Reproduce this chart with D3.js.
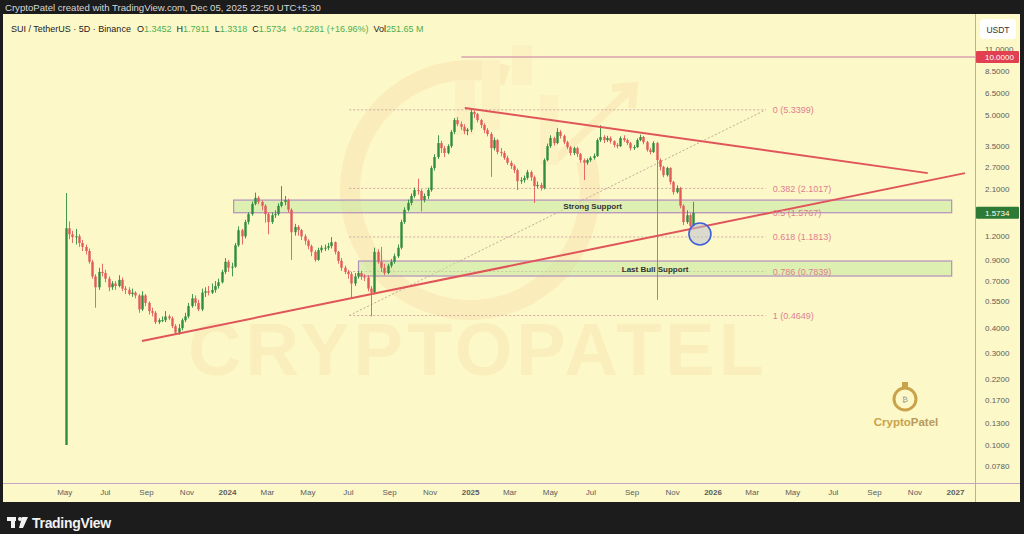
<!DOCTYPE html>
<meta charset="utf-8">
<style>
  body { margin: 0; background: #1c1c1c; }
  svg { display: block; font-family: "Liberation Sans", Arial, sans-serif; }
  .axis path, .axis line { display: none; }
  .axis text { fill: #5c5c5c; font-size: 8px; font-family: "Liberation Sans", Arial, sans-serif; }
</style>
<body>
<script src="https://d3js.org/d3.v7.min.js"></script>
<script>
// SUI / USDT 5D candles, first one opens on listing day
var startDate = "2023-05-03";
var firstOpen = 0.10;
var closes = [
  1.31, 1.22, 1.18, 1.19, 1.10, 1.05, 1.00, 0.88, 0.74, 0.65,
  0.78, 0.77, 0.72, 0.65, 0.68, 0.66, 0.71, 0.64, 0.63, 0.60,
  0.61, 0.59, 0.50, 0.59, 0.54, 0.49, 0.48, 0.43, 0.44, 0.44,
  0.46, 0.45, 0.41, 0.38, 0.40, 0.44, 0.46, 0.52, 0.57, 0.54,
  0.50, 0.61, 0.62, 0.61, 0.63, 0.66, 0.69, 0.78, 0.88, 0.82,
  0.83, 1.07, 1.28, 1.19, 1.41, 1.55, 1.75, 1.88, 1.79, 1.71,
  1.55, 1.41, 1.53, 1.55, 1.71, 1.79, 1.83, 1.63, 1.25, 1.33,
  1.28, 1.19, 1.13, 1.06, 0.99, 0.90, 1.01, 1.04, 1.04, 1.06,
  1.11, 0.99, 0.89, 0.82, 0.78, 0.76, 0.68, 0.74, 0.77, 0.74,
  0.73, 0.64, 0.61, 0.99, 0.88, 0.82, 0.77, 0.84, 0.88, 0.94,
  1.04, 1.41, 1.63, 1.77, 1.92, 2.06, 2.04, 1.83, 1.92, 2.06,
  2.68, 3.05, 3.60, 3.39, 3.20, 3.47, 4.11, 4.73, 4.51, 4.36,
  4.15, 4.22, 5.20, 5.08, 4.73, 4.46, 4.20, 4.01, 3.39, 3.73,
  3.24, 3.20, 3.02, 2.85, 2.74, 2.61, 2.29, 2.32, 2.38, 2.55,
  2.40, 2.16, 2.19, 2.11, 2.94, 3.47, 3.82, 3.60, 4.11, 3.92,
  3.64, 3.43, 3.20, 3.39, 3.16, 2.94, 2.85, 2.94, 3.02, 3.09,
  3.73, 3.87, 3.73, 3.82, 3.68, 3.52, 3.47, 3.82, 3.73, 3.60,
  3.39, 3.43, 3.73, 3.87, 3.64, 3.32, 3.24, 3.60, 2.94, 2.71,
  2.46, 2.68, 2.27, 2.01, 2.11, 1.71, 1.41, 1.53, 1.3452, 1.5734
];
var highs = [
  1.99, 1.42, 1.27, 1.30, 1.22, 1.14, 1.08, 1.03, 0.90, 0.76,
  0.82, 0.86, 0.80, 0.74, 0.70, 0.70, 0.75, 0.73, 0.66, 0.65,
  0.64, 0.62, 0.60, 0.62, 0.60, 0.55, 0.51, 0.49, 0.45, 0.46,
  0.49, 0.47, 0.46, 0.42, 0.42, 0.45, 0.48, 0.54, 0.60, 0.59,
  0.56, 0.64, 0.65, 0.66, 0.68, 0.70, 0.72, 0.80, 0.92, 0.90,
  0.87, 1.10, 1.34, 1.30, 1.45, 1.58, 1.80, 2.00, 1.92, 1.82,
  1.74, 1.58, 1.58, 1.62, 1.76, 2.16, 1.92, 1.86, 1.66, 1.38,
  1.36, 1.30, 1.22, 1.15, 1.08, 1.01, 1.04, 1.07, 1.08, 1.10,
  1.18, 1.12, 1.00, 0.92, 0.84, 0.80, 0.78, 0.77, 0.79, 0.79,
  0.76, 0.75, 0.66, 1.04, 1.02, 1.05, 0.86, 0.86, 0.91, 0.97,
  1.08, 1.45, 1.68, 1.84, 1.98, 2.12, 2.36, 2.08, 1.98, 2.12,
  2.75, 3.15, 3.95, 3.70, 3.48, 3.55, 4.20, 4.85, 4.90, 4.65,
  4.50, 4.30, 5.34, 5.30, 5.15, 4.80, 4.55, 4.30, 4.10, 3.85,
  3.78, 3.40, 3.28, 3.10, 2.92, 2.80, 2.66, 2.40, 2.45, 2.62,
  2.60, 2.45, 2.28, 2.25, 3.00, 3.58, 3.95, 3.88, 4.30, 4.20,
  3.98, 3.70, 3.48, 3.45, 3.45, 3.20, 3.00, 3.00, 3.08, 3.18,
  3.80, 4.45, 3.95, 3.92, 3.90, 3.72, 3.60, 3.90, 3.95, 3.80,
  3.65, 3.52, 3.80, 3.98, 3.92, 3.70, 3.40, 3.68, 3.65, 3.00,
  2.75, 2.72, 2.70, 2.30, 2.18, 2.14, 1.74, 1.62, 1.56, 1.7911
];
var lows = [
  0.10, 1.15, 1.10, 1.08, 1.05, 1.00, 0.96, 0.86, 0.72, 0.51,
  0.63, 0.74, 0.69, 0.62, 0.63, 0.63, 0.65, 0.62, 0.60, 0.59,
  0.58, 0.57, 0.48, 0.49, 0.52, 0.47, 0.46, 0.42, 0.42, 0.43,
  0.43, 0.44, 0.40, 0.37, 0.37, 0.39, 0.43, 0.45, 0.51, 0.52,
  0.49, 0.49, 0.58, 0.59, 0.60, 0.61, 0.64, 0.68, 0.76, 0.78,
  0.74, 0.82, 1.05, 1.08, 1.16, 1.37, 1.52, 1.72, 1.74, 1.62,
  1.40, 1.22, 1.38, 1.48, 1.52, 1.68, 1.72, 1.58, 0.90, 1.20,
  1.20, 1.14, 1.08, 1.02, 0.94, 0.88, 0.89, 0.98, 1.00, 1.01,
  1.03, 0.96, 0.86, 0.79, 0.76, 0.72, 0.57, 0.66, 0.72, 0.71,
  0.70, 0.62, 0.46, 0.60, 0.86, 0.78, 0.75, 0.76, 0.82, 0.86,
  0.92, 1.02, 1.38, 1.60, 1.72, 1.88, 1.95, 1.60, 1.78, 1.85,
  2.02, 2.60, 2.98, 3.20, 3.05, 3.15, 3.40, 4.00, 4.40, 4.20,
  4.00, 3.95, 4.10, 4.85, 4.60, 4.30, 4.05, 3.90, 2.41, 3.30,
  3.15, 3.08, 2.95, 2.78, 2.65, 2.52, 2.06, 2.22, 2.25, 2.33,
  2.30, 1.77, 2.10, 2.05, 2.08, 2.90, 3.40, 3.50, 3.55, 3.80,
  3.55, 3.35, 3.10, 3.12, 3.05, 2.85, 2.32, 2.78, 2.88, 2.96,
  3.05, 3.65, 3.60, 3.65, 3.58, 3.42, 3.38, 3.44, 3.65, 3.52,
  3.30, 3.32, 3.40, 3.68, 3.55, 3.25, 3.15, 3.20, 0.56, 2.60,
  2.40, 2.42, 2.20, 1.95, 1.98, 1.66, 1.36, 1.38, 1.30, 1.3318
];

// legend extras, as shown by TradingView
var changeAbs = "+0.2281";
var changePct = "(+16.96%)";
var volume = "251.65 M";

// axes
var priceTicks = [11, 8.5, 6.5, 5, 3.5, 2.7, 2.1, 1.2, 0.9, 0.7, 0.55, 0.4, 0.3, 0.22, 0.17, 0.13, 0.1, 0.078];
var monthTicks = ["2023-05-01", "2023-07-01", "2023-09-01", "2023-11-01", "2024-01-01", "2024-03-01",
  "2024-05-01", "2024-07-01", "2024-09-01", "2024-11-01", "2025-01-01", "2025-03-01", "2025-05-01",
  "2025-07-01", "2025-09-01", "2025-11-01", "2026-01-01", "2026-03-01", "2026-05-01", "2026-07-01",
  "2026-09-01", "2026-11-01", "2027-01-01"];

// fib retracement
var fibLevels = ["0", "0.382", "0.5", "0.618", "0.786", "1"];
var fibPrices = [5.3399, 2.1017, 1.5767, 1.1813, 0.7839, 0.4649];
var fibDates = ["2024-07-03", "2026-03-22"];

// zones
var zoneNames = ["Strong Support", "Last Bull Support"];
var zoneTop = [1.83, 0.888];
var zoneBottom = [1.575, 0.743];
var zoneStart = ["2024-01-11", "2024-07-17"];
var zoneEnd = ["2026-12-27", "2026-12-27"];

// trend lines [date, price]
var resistance = [["2024-12-24", 5.46], ["2026-11-21", 2.52]];
var support = [["2023-08-26", 0.344], ["2027-01-16", 2.52]];
var tenLine = [["2024-12-19", 10], ["2027-02-22", 10]];
var circleMark = ["2025-12-13", 1.224];

var lastPrice = 1.5734;

var svg = d3.select("body").append("svg")
  .attr("width", 1024).attr("height", 534);

var x = d3.scaleUtc().domain([new Date("2024-01-01"), new Date("2027-01-01")]).range([227, 955]);
var y = d3.scaleLog().domain([10, 0.1]).range([57, 445]);

var green = "#2f8d3e", red = "#e25b5b";

// panel
svg.append("rect").attr("x", 3).attr("y", 14).attr("width", 1017).attr("height", 488).attr("fill", "#fdf8c8");

var defs = svg.append("defs");
defs.append("clipPath").attr("id", "plot").append("rect")
  .attr("x", 3).attr("y", 14).attr("width", 972).attr("height", 469);

var plot = svg.append("g").attr("clip-path", "url(#plot)");

// watermark (very faint)
var wm = plot.append("g").attr("opacity", 0.12);
wm.append("path")
  .attr("transform", "translate(470,190)")
  .attr("d", d3.arc().innerRadius(110).outerRadius(130).startAngle(Math.PI * 0.42).endAngle(Math.PI * 2.1)())
  .attr("fill", "#f0a060");
wm.append("path")
  .attr("d", "M555,160 L630,90 M612,88 L634,86 L632,108")
  .attr("stroke", "#f0a060").attr("stroke-width", 8).attr("fill", "none");
[[455, 80, 20, 55], [482, 60, 18, 70], [512, 45, 20, 40], [540, 95, 18, 70]].forEach(function(b) {
  wm.append("rect").attr("x", b[0]).attr("y", b[1]).attr("width", b[2]).attr("height", b[3]).attr("fill", "#f3c090");
});
wm.append("text").attr("x", 478).attr("y", 375).attr("text-anchor", "middle")
  .attr("font-size", 74).attr("font-weight", "bold").attr("letter-spacing", 4)
  .attr("fill", "#eea870").text("CRYPTOPATEL");

// fib lines
var f0 = x(new Date(fibDates[0])), f1 = x(new Date(fibDates[1]));
plot.append("line")
  .attr("x1", f0).attr("y1", y(fibPrices[5])).attr("x2", f1).attr("y2", y(fibPrices[0]))
  .attr("stroke", "#c9a59a").attr("stroke-width", 1).attr("stroke-dasharray", "2,2");
fibPrices.forEach(function(p, i) {
  plot.append("line")
    .attr("x1", f0).attr("x2", f1).attr("y1", y(p)).attr("y2", y(p))
    .attr("stroke", "#cfaaa5").attr("stroke-width", 1).attr("stroke-dasharray", "2,2");
});

// zones
zoneNames.forEach(function(n, i) {
  var x0 = x(new Date(zoneStart[i])), x1 = x(new Date(zoneEnd[i]));
  plot.append("rect")
    .attr("x", x0).attr("y", y(zoneTop[i]))
    .attr("width", x1 - x0).attr("height", y(zoneBottom[i]) - y(zoneTop[i]))
    .attr("fill", "rgba(196,232,160,0.55)").attr("stroke", "#b48fc0").attr("stroke-width", 1.2);
});

// ten line
plot.append("line")
  .attr("x1", x(new Date(tenLine[0][0]))).attr("x2", x(new Date(tenLine[1][0])))
  .attr("y1", y(tenLine[0][1])).attr("y2", y(tenLine[1][1]))
  .attr("stroke", "#c6789e").attr("stroke-width", 1);

// candles
var candles = closes.map(function(c, i) {
  var d = new Date(startDate);
  d.setUTCDate(d.getUTCDate() + 5 * i);
  return { date: d, open: i === 0 ? firstOpen : closes[i - 1], high: highs[i], low: lows[i], close: c };
});
var bw = 2.4;
var cg = plot.append("g");
cg.selectAll("line.wick").data(candles).enter().append("line")
  .attr("x1", function(d) { return Math.round(x(d.date)) + 0.5; })
  .attr("x2", function(d) { return Math.round(x(d.date)) + 0.5; })
  .attr("y1", function(d) { return y(d.high); })
  .attr("y2", function(d) { return y(d.low); })
  .attr("stroke", function(d) { return d.close >= d.open ? green : red; })
  .attr("stroke-width", 0.9);
cg.selectAll("rect.body").data(candles).enter().append("rect")
  .attr("x", function(d) { return Math.round(x(d.date)) + 0.5 - bw / 2; })
  .attr("y", function(d) { return y(Math.max(d.open, d.close)); })
  .attr("width", bw)
  .attr("height", function(d) { return Math.max(1, Math.abs(y(d.open) - y(d.close))); })
  .attr("fill", function(d) { return d.close >= d.open ? green : red; });

// trend lines
[resistance, support].forEach(function(t) {
  plot.append("line")
    .attr("x1", x(new Date(t[0][0]))).attr("y1", y(t[0][1]))
    .attr("x2", x(new Date(t[1][0]))).attr("y2", y(t[1][1]))
    .attr("stroke", "#e0555a").attr("stroke-width", 2);
});

// zone labels
zoneNames.forEach(function(n, i) {
  var x0 = x(new Date(zoneStart[i])), x1 = x(new Date(zoneEnd[i]));
  plot.append("text")
    .attr("x", (x0 + x1) / 2).attr("y", (y(zoneTop[i]) + y(zoneBottom[i])) / 2 + 3)
    .attr("text-anchor", "middle").attr("font-size", 8).attr("font-weight", "bold")
    .attr("fill", "#333").text(n);
});

// fib labels
fibPrices.forEach(function(p, i) {
  plot.append("text")
    .attr("x", f1 + 7).attr("y", y(p) + 3.5)
    .attr("font-size", 9).attr("fill", "#de7f90")
    .text(fibLevels[i] + " (" + p.toFixed(4) + ")");
});

// circle
plot.append("circle")
  .attr("cx", x(new Date(circleMark[0]))).attr("cy", y(circleMark[1])).attr("r", 11)
  .attr("fill", "rgba(190,195,210,0.55)").attr("stroke", "#3f5fdc").attr("stroke-width", 1.6);

// logo bottom right
var logo = svg.append("g");
logo.append("circle").attr("cx", 905).attr("cy", 399).attr("r", 11)
  .attr("fill", "none").attr("stroke", "#c9a24a").attr("stroke-width", 3);
logo.append("rect").attr("x", 902).attr("y", 382).attr("width", 6).attr("height", 5).attr("fill", "#c9a24a");
logo.append("text").attr("x", 905).attr("y", 402).attr("text-anchor", "middle")
  .attr("font-size", 8).attr("fill", "#9a9a9a").text("₿");
var lt = logo.append("text").attr("x", 906).attr("y", 426).attr("text-anchor", "middle")
  .attr("font-size", 11.5).attr("font-weight", "bold");
lt.append("tspan").attr("fill", "#c9a24a").text("Crypto");
lt.append("tspan").attr("fill", "#b79a5c").text("Patel");

// axes frame
svg.append("line").attr("x1", 3).attr("x2", 1020).attr("y1", 483.5).attr("y2", 483.5)
  .attr("stroke", "#c9a2c6").attr("stroke-width", 1);
svg.append("line").attr("x1", 975.5).attr("x2", 975.5).attr("y1", 14).attr("y2", 502)
  .attr("stroke", "#c9a2c6").attr("stroke-width", 1);

// price axis
svg.append("g").attr("class", "axis").attr("transform", "translate(975,0)")
  .call(d3.axisRight(y).tickValues(priceTicks).tickSize(0).tickPadding(10)
    .tickFormat(function(d) { return d.toFixed(4); }));

// time axis
var tAxis = svg.append("g").attr("class", "axis").attr("transform", "translate(0,484)")
  .call(d3.axisBottom(x).tickValues(monthTicks.map(function(s) { return new Date(s); }))
    .tickSize(0).tickPadding(5)
    .tickFormat(function(d) { return d.getUTCMonth() === 0 ? d3.utcFormat("%Y")(d) : d3.utcFormat("%b")(d); }));
tAxis.selectAll("text")
  .attr("font-weight", function(d) { return d.getUTCMonth() === 0 ? "bold" : "normal"; })
  .attr("fill", function(d) { return d.getUTCMonth() === 0 ? "#333" : "#5c5c5c"; });

// USDT box
svg.append("rect").attr("x", 980).attr("y", 19).attr("width", 36).attr("height", 20).attr("rx", 4)
  .attr("fill", "#ffffff");
svg.append("text").attr("x", 998).attr("y", 32.5).attr("text-anchor", "middle")
  .attr("font-size", 8.5).attr("fill", "#333").text("USDT");

// price labels
[[10, "#e0404f"], [lastPrice, "#2c7a35"]].forEach(function(p) {
  svg.append("rect").attr("x", 976).attr("y", y(p[0]) - 6).attr("width", 43).attr("height", 12)
    .attr("rx", 1).attr("fill", p[1]);
  svg.append("text").attr("x", 985).attr("y", y(p[0]) + 3).attr("font-size", 8)
    .attr("fill", "#fff").text(p[0].toFixed(4));
});

// header
svg.append("text").attr("x", 5).attr("y", 11).attr("font-size", 9.6).attr("fill", "#d8d8d8")
  .text("CryptoPatel created with TradingView.com, Dec 05, 2025 22:50 UTC+5:30");

var leg = svg.append("text").attr("x", 11).attr("y", 32).attr("font-size", 9).attr("fill", "#222");
var last = candles[candles.length - 1];
leg.append("tspan").text("SUI / TetherUS · 5D · Binance");
[["O", last.open.toFixed(4)], ["H", last.high.toFixed(4)], ["L", last.low.toFixed(4)], ["C", last.close.toFixed(4)]]
  .forEach(function(o, i) {
    leg.append("tspan").attr("dx", i === 0 ? 6 : 5).attr("fill", "#222").text(o[0]);
    leg.append("tspan").attr("fill", "#4caf50").text(o[1]);
  });
leg.append("tspan").attr("dx", 5).attr("fill", "#4caf50").text(changeAbs + " " + changePct);
leg.append("tspan").attr("dx", 5).attr("fill", "#222").text("Vol");
leg.append("tspan").attr("fill", "#4caf50").text(volume);

// bottom brand
var tv = svg.append("g").attr("fill", "#f2f2f2");
tv.append("rect").attr("x", 7).attr("y", 517).attr("width", 9).attr("height", 4);
tv.append("rect").attr("x", 11).attr("y", 517).attr("width", 4).attr("height", 11);
tv.append("circle").attr("cx", 20).attr("cy", 519).attr("r", 2);
tv.append("path").attr("d", "M22,517 L28,517 L23,528 L19,528 Z");
svg.append("text").attr("x", 32).attr("y", 528).attr("font-size", 14).attr("fill", "#f2f2f2")
  .attr("font-weight", "bold").attr("letter-spacing", -0.3).text("TradingView");
</script>
</body>
